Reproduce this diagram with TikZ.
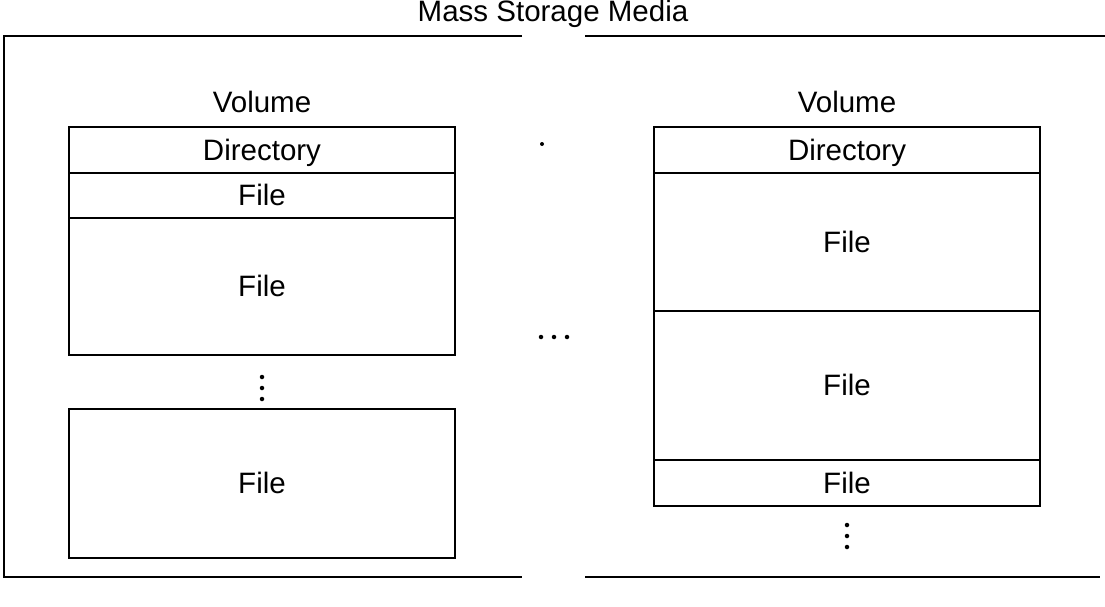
\documentclass[tikz,border=0pt]{standalone}
\usepackage{fontspec}
\setmainfont{Liberation Sans}
\begin{document}
\begin{tikzpicture}[x=1pt,y=-1pt,
  cell/.style={draw, line width=2.4pt, minimum width=386pt, inner sep=0pt, text height=20pt, text depth=0pt, font=\fontsize{29.5}{32}\selectfont},
  lbl/.style={inner sep=0pt, text height=20pt, text depth=0pt, font=\fontsize{29.5}{32}\selectfont},
  frame/.style={line width=2.2pt},
  dot/.style={circle, fill=black, inner sep=0pt, minimum size=4.5pt}]
\useasboundingbox (0,0) rectangle (1105,607);
% outer frame
\coordinate (tl) at (4,36);
\coordinate (tg1) at (522,36);
\coordinate (tg2) at (585,36);
\coordinate (tr) at (1105,36);
\coordinate (bl) at (4,577);
\coordinate (bg1) at (522,577);
\coordinate (bg2) at (585,577);
\coordinate (br) at (1100,577);
\draw[frame] (tg1) -- (tl) -- (bl) -- (bg1);
\draw[frame] (tg2) -- (tr);
\draw[frame] (bg2) -- (br);
\node[lbl] (title) at (553,12) {Mass Storage Media};
% left volume
\node[lbl] (lvol) at (262,103) {Volume};
\node[cell, minimum height=46pt] (ldir) at (262,150) {Directory};
\node[cell, minimum height=45pt] (lf1) at (262,195.5) {File};
\node[cell, minimum height=137pt] (lf2) at (262,286.5) {File};
\node[dot] (ld1) at (262,377) {};
\node[dot] (ld2) at (262,388) {};
\node[dot] (ld3) at (262,399) {};
\node[cell, minimum height=149pt] (lf3) at (262,483.5) {File};
% middle
\node[dot, minimum size=4pt] (stray) at (542,144) {};
\node[dot] (m1) at (541,337) {};
\node[dot] (m2) at (554,337) {};
\node[dot] (m3) at (567,337) {};
% right volume
\node[lbl] (rvol) at (847,103) {Volume};
\node[cell, minimum height=46pt] (rdir) at (847,150) {Directory};
\node[cell, minimum height=138pt] (rf1) at (847,242) {File};
\node[cell, minimum height=149pt] (rf2) at (847,385.5) {File};
\node[cell, minimum height=46pt] (rf3) at (847,483) {File};
\node[dot] (rd1) at (847,525) {};
\node[dot] (rd2) at (847,536) {};
\node[dot] (rd3) at (847,547) {};
\end{tikzpicture}
\end{document}
